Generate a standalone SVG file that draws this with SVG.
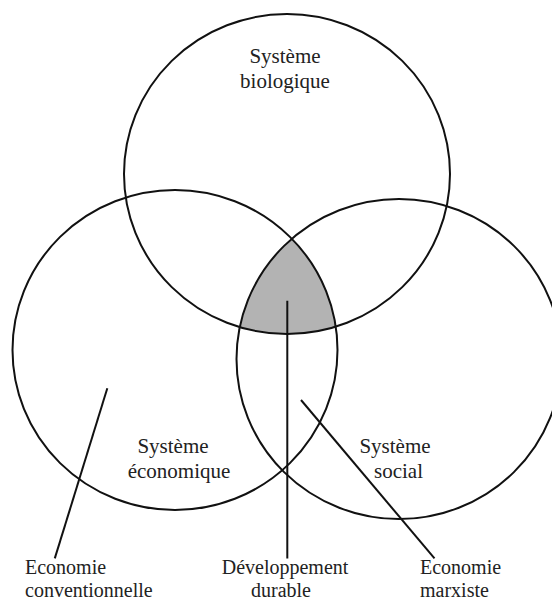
<svg xmlns="http://www.w3.org/2000/svg" width="552" height="603" viewBox="0 0 552 603">
<style>
.c{fill:none;stroke:#111;stroke-width:2}
.l{stroke:#111;stroke-width:2;fill:none}
text{font-family:'Liberation Serif','DejaVu Serif','Times New Roman',serif;font-size:21px;fill:#222}
.b{font-size:20px}
.m{text-anchor:middle}
</style>
<defs>
<clipPath id="clipL"><ellipse cx="175" cy="350" rx="162.5" ry="160"/></clipPath>
<clipPath id="clipR"><ellipse cx="399" cy="359" rx="162.5" ry="160"/></clipPath>
</defs>
<rect width="552" height="603" fill="#fff"/>
<g id="intersection" clip-path="url(#clipL)">
<ellipse cx="287" cy="174" rx="163" ry="160" fill="#b3b3b3" clip-path="url(#clipR)"/>
</g>
<g id="bio">
<ellipse class="c" cx="287" cy="174" rx="163" ry="160"/>
<text class="m" x="285" y="63">Système</text>
<text class="m" x="285" y="88">biologique</text>
</g>
<g id="eco">
<ellipse class="c" cx="175" cy="350" rx="162.5" ry="160"/>
<text class="m" x="173" y="453">Système</text>
<text class="m" x="179" y="478">économique</text>
</g>
<g id="soc">
<ellipse class="c" cx="399" cy="359" rx="162.5" ry="160"/>
<text class="m" x="395" y="453">Système</text>
<text class="m" x="398.5" y="478">social</text>
</g>
<g id="connectors">
<line class="l" x1="107.3" y1="388.3" x2="54.8" y2="558.4"/>
<line class="l" x1="287.3" y1="300.7" x2="287.3" y2="558.4"/>
<line class="l" x1="301" y1="400" x2="434.5" y2="558.4"/>
</g>
<g id="conv">
<text class="b" x="25" y="574">Economie</text>
<text class="b" x="25" y="597">conventionnelle</text>
</g>
<g id="durable">
<text class="b m" x="285" y="574">Développement</text>
<text class="b m" x="281" y="597">durable</text>
</g>
<g id="marx">
<text class="b" x="420" y="574">Economie</text>
<text class="b" x="420" y="597">marxiste</text>
</g>
</svg>
